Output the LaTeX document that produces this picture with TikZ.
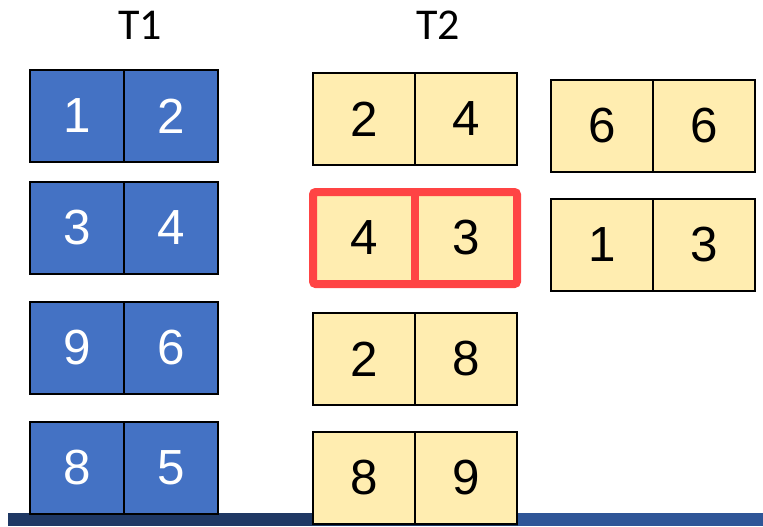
\documentclass[tikz,border=0pt]{standalone}
\usepackage{fontspec}
\setmainfont{Liberation Sans}
\newfontfamily\hdrfont{Carlito}
\usetikzlibrary{positioning}
\definecolor{tblue}{HTML}{4472C4}
\definecolor{tyel}{HTML}{FFEDB0}
\definecolor{pickred}{HTML}{FF4444}
\definecolor{stripdark}{HTML}{1F3864}
\definecolor{striplight}{HTML}{2F5597}
\tikzset{
  cell/.style={draw=black, line width=1.3pt, outer sep=0pt, inner sep=0pt,
    minimum height=69pt, font=\fontsize{37}{37}\selectfont},
  bluecell/.style={cell, fill=tblue, text=white, minimum width=70.5pt},
  yelcell/.style={cell, fill=tyel, text=black, minimum width=76.5pt},
  hdr/.style={font=\hdrfont\fontsize{33}{33}\selectfont},
  pick/.style={draw=pickred, line width=6pt, rounded corners=2pt},
}
\begin{document}
\begin{tikzpicture}[x=0.75pt, y=-0.75pt]
  \useasboundingbox (0,0) rectangle (763,526);

  % ---------------- footer strip ----------------
  \fill[stripdark] (8,513) rectangle (518,526);
  \fill[striplight] (518,513) rectangle (763,526);

  % ---------------- T1 ----------------
  \node[hdr] (t1) at (140,25) {T1};
  \foreach \n/\y/\a/\b in {1/70/1/2, 2/182/3/4, 3/302/9/6, 4/422/8/5} {
    \node[bluecell, anchor=north west] (t1a\n) at (30,\y) {\a};
    \node[bluecell, right=0pt of t1a\n] (t1b\n) {\b};
  }

  % ---------------- T2 ----------------
  \node[hdr] (t2) at (438,25) {T2};
  \foreach \n/\y/\a/\b in {1/73/2/4, 2/192/4/3, 3/313/2/8, 4/432/8/9} {
    \node[yelcell, anchor=north west] (t2a\n) at (313,\y) {\a};
    \node[yelcell, right=0pt of t2a\n] (t2b\n) {\b};
  }
  \foreach \n/\y/\a/\b in {1/80/6/6, 2/199/1/3} {
    \node[yelcell, anchor=north west] (t3a\n) at (551,\y) {\a};
    \node[yelcell, right=0pt of t3a\n] (t3b\n) {\b};
  }

  % ---------------- match ----------------
  \draw[pick] (t2a2.north west) rectangle (t2b2.south east);
  \draw[pick] (t2a2.north east) -- (t2a2.south east);
\end{tikzpicture}
\end{document}
